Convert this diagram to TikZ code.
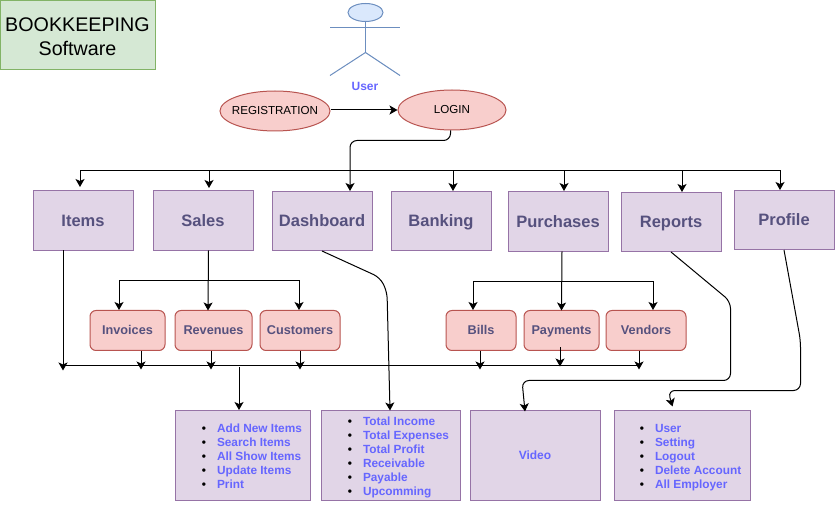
\documentclass[tikz,border=0pt]{standalone}
\usepackage{fontspec}
\usepackage{xcolor}
\setmainfont{Liberation Sans}
\usetikzlibrary{arrows.meta,shapes.geometric}
\definecolor{titlefill}{HTML}{D5E8D4}
\definecolor{titleline}{HTML}{82B366}
\definecolor{actorfill}{HTML}{DAE8FC}
\definecolor{actorline}{HTML}{6C8EBF}
\definecolor{redfill}{HTML}{F8CECC}
\definecolor{redline}{HTML}{B85450}
\definecolor{purplefill}{HTML}{E1D5E7}
\definecolor{purpleline}{HTML}{9673A6}
\definecolor{labeltext}{HTML}{56517E}
\definecolor{listtext}{HTML}{6666FF}
\newenvironment{menu-list}[1]{%
  \fontsize{11.85}{14}\selectfont\bfseries\color{listtext}%
  \vspace*{4pt}%
  \begin{list}{\textcolor{black}{\textbullet}}{\setlength{\leftmargin}{#1}\setlength{\labelsep}{11pt}%
    \setlength{\topsep}{0pt}\setlength{\partopsep}{0pt}\setlength{\parsep}{0pt}\setlength{\itemsep}{0pt}}%
}{\end{list}}
\tikzset{
    title-box/.style = {draw=titleline, fill=titlefill, line width=1pt, minimum width=155pt, minimum height=69pt, align=center, font=\fontsize{19.7}{24}\selectfont, inner sep=0pt},
    login-oval/.style = {draw=redline, fill=redfill, line width=1pt, ellipse, minimum height=40pt, inner sep=0pt, font=\fontsize{11.6}{14}\selectfont},
    menu-box/.style = {draw=purpleline, fill=purplefill, line width=1pt, minimum width=100pt, text=labeltext, font=\fontsize{16.5}{20}\selectfont\bfseries, inner sep=0pt, text height=12pt, text depth=0pt},
    sub-box/.style = {draw=redline, fill=redfill, line width=1pt, rounded corners=6pt, minimum height=40pt, text=labeltext, font=\fontsize{12.7}{15}\selectfont\bfseries, inner sep=0pt, text height=9pt, text depth=0pt},
    list-box/.style = {draw=purpleline, fill=purplefill, line width=1pt, minimum height=90pt, inner sep=0pt},
    flow/.style = {draw=black, line width=1pt, -{Stealth[length=8pt,width=9pt,inset=2pt]}},
    flow-line/.style = {draw=black, line width=1pt},
    bend-flow/.style = {flow, rounded corners=7pt},
    actor-line/.style = {draw=actorline, line width=1pt},
}
\begin{document}
\begin{tikzpicture}[x=1pt,y=-1pt]
\useasboundingbox (0,-0.5) rectangle (835,509.5);
\node [title-box] (title) at (77.5,34.5) {\rule{0pt}{18pt}BOOKKEEPING\\Software};
% user figure
\node [actor-line, fill=actorfill, ellipse, minimum width=35pt, minimum height=18pt, inner sep=0pt] (head) at (365.5,12) {};
\coordinate (hip) at (365.5,52);
\coordinate (arm-left) at (330,27);
\coordinate (arm-right) at (400,27);
\coordinate (foot-left) at (330,75);
\coordinate (foot-right) at (400,75);
\draw [actor-line] (head.south) -- (hip);
\draw [actor-line] (arm-left) -- (arm-right);
\draw [actor-line] (foot-left) -- (hip) -- (foot-right);
\node [text=listtext, font=\fontsize{12}{14}\selectfont\bfseries] (user) at (365,85.5) {User};
% login
\node [login-oval, minimum width=110pt] (registration) at (275,110.5) {\makebox[0pt]{REGISTRATION}};
\node [login-oval, minimum width=108pt] (login) at (452,109.5) {\makebox[0pt]{LOGIN}};
\draw [flow] (registration.east |- login) -- (login.west);
% menu row
\node [menu-box, minimum height=60pt] (items) at (83,220) {Items};
\node [menu-box, minimum height=60pt] (sales) at (203,220) {Sales};
\node [menu-box, minimum height=59pt] (dashboard) at (322,220.5) {Dashboard};
\node [menu-box, minimum height=59pt] (banking) at (441,220.5) {Banking};
\node [menu-box, minimum height=60pt] (purchases) at (558,221) {Purchases};
\node [menu-box, minimum height=59pt] (reports) at (671,221.5) {Reports};
\node [menu-box, minimum height=59pt] (profile) at (784,219.5) {Profile};
% sub boxes
\node [sub-box, minimum width=75pt] (invoices) at (127.5,330) {Invoices};
\node [sub-box, minimum width=77pt] (revenues) at (213.5,330) {Revenues};
\node [sub-box, minimum width=80pt] (customers) at (300,330) {Customers};
\node [sub-box, minimum width=70pt] (bills) at (481,330) {Bills};
\node [sub-box, minimum width=75pt] (payments) at (561.5,330) {Payments};
\node [sub-box, minimum width=80pt] (vendors) at (646,330) {Vendors};
% lists
\node [list-box, minimum width=135pt] (items-list) at (242.5,455) {\begin{minipage}{135pt}
\begin{menu-list}{42pt}
\item\strut Add New Items
\item\strut Search Items
\item\strut All Show Items
\item\strut Update Items
\item\strut Print
\end{menu-list}
\end{minipage}};
\node [list-box, minimum width=139pt] (dashboard-list) at (390.5,455) {\begin{minipage}{139pt}
\begin{menu-list}{42pt}
\item\strut Total Income
\item\strut Total Expenses
\item\strut Total Profit
\item\strut Receivable
\item\strut Payable
\item\strut Upcomming
\end{menu-list}
\end{minipage}};
\node [list-box, minimum width=130pt, text=listtext, font=\fontsize{12}{14}\selectfont\bfseries] (video) at (535,455) {Video};
\node [list-box, minimum width=136pt] (profile-list) at (682,455) {\begin{minipage}{136pt}
\begin{menu-list}{41pt}
\item\strut User
\item\strut Setting
\item\strut Logout
\item\strut Delete Account
\item\strut All Employer
\end{menu-list}
\end{minipage}};
% top bus
\coordinate (top-left) at (80,170);
\coordinate (top-right) at (780,170);
\draw [flow-line] (top-left) -- (top-right);
\foreach \name/\x/\gap in {items/80/3,sales/209/2,banking/453/0,purchases/564/0,reports/682/0,profile/780/0}
    \draw [flow, shorten >=\gap pt] (\x,170) -- (\x,0 |- \name.north);
\coordinate (login-turn) at (350,140);
\draw [bend-flow] (450.5,130) -- (450.5,140) -- (login-turn) -- (login-turn |- dashboard.north);
% sales branch
\coordinate (sales-left) at (119,280);
\coordinate (sales-right) at (299,280);
\draw [flow] (208.5,250) -- (208,310);
\draw [flow-line] (sales-left) -- (sales-right);
\draw [flow] (sales-left) -- (sales-left |- invoices.north);
\draw [flow] (sales-right) -- (sales-right |- customers.north);
% purchases branch
\coordinate (purchases-left) at (473,281);
\coordinate (purchases-right) at (653,281);
\draw [flow] (562,251) -- (561.5,310);
\draw [flow-line] (purchases-left) -- (purchases-right);
\draw [flow] (purchases-left) -- (purchases-left |- bills.north);
\draw [flow] (purchases-right) -- (purchases-right |- vendors.north);
% lower bus
\coordinate (low-left) at (63,365.5);
\coordinate (low-right) at (639,365.5);
\draw [flow-line] (low-left) -- (low-right);
\draw [flow] (63,250) -- (63,370);
\foreach \name/\x in {invoices/141,revenues/211,customers/300,bills/480,vendors/639}
    \draw [flow] (\x,0 |- \name.south) -- (\x,369);
\draw [flow] (560,347) -- (560,366);
\draw [flow] (239,367) -- (239,0 |- items-list.north);
% long connectors
\draw [bend-flow] (dashboard.south) -- (380,277) -- (387,291) -- (390,410);
\draw [bend-flow] (reports.south) -- (730.5,301) -- (730.5,380) -- (522,380) -- (525,411);
\draw [bend-flow] (profile.south) -- (800.5,340) -- (800.5,390) -- (668,390) -- (672.5,406);
\end{tikzpicture}
\end{document}
